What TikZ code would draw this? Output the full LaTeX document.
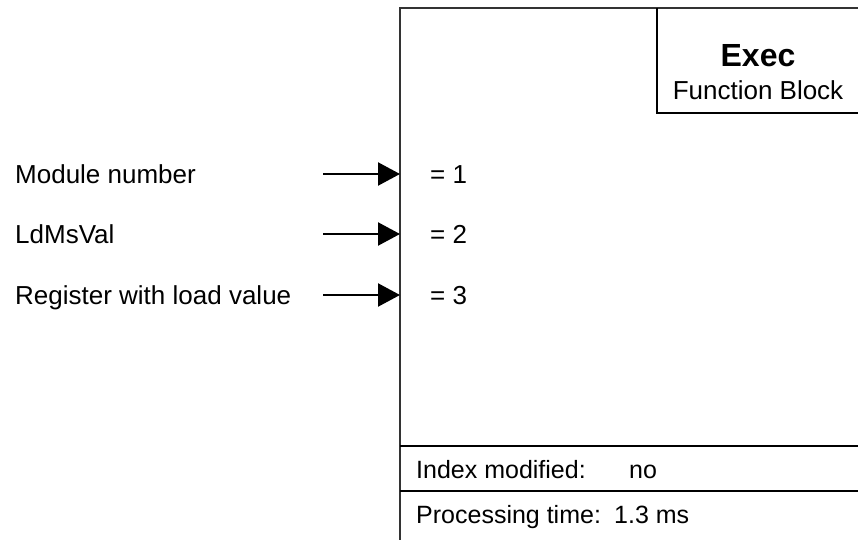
\documentclass[tikz,border=0pt]{standalone}
\usepackage{fontspec}
\setmainfont{Liberation Sans}
\usetikzlibrary{arrows.meta}
\begin{document}
\begin{tikzpicture}[x=1pt,y=-1pt,
  txt/.style={inner sep=0pt, anchor=base west, font=\fontsize{26}{31}\selectfont},
  rowtxt/.style={inner sep=0pt, anchor=base west, font=\fontsize{25}{30}\selectfont},
  thinline/.style={line width=1.3pt, draw=black!80},
  thickline/.style={line width=2.2pt},
  inarrow/.style={line width=2.2pt, -{Triangle[length=22pt,width=23pt]}, shorten >=0pt}]
\useasboundingbox (0,0) rectangle (858,540);
% outer block
\coordinate (tl) at (400,8);
\coordinate (tr) at (858,8);
\coordinate (bl) at (400,540);
\draw[thinline] (tr) -- (tl) -- (bl);
% title box
\coordinate (ttop) at (657,8);
\coordinate (tcorner) at (657,113);
\coordinate (tright) at (858,113);
\draw[thickline] (ttop) -- (tcorner) -- (tright);
\node[inner sep=0pt, anchor=base, font=\fontsize{32}{37}\selectfont\bfseries] (exec) at (758,67) {Exec};
\node[inner sep=0pt, anchor=base, font=\fontsize{26}{31}\selectfont] (fb) at (758,100) {Function Block};
% bottom rows
\coordinate (r1l) at (400,446);
\coordinate (r1r) at (858,446);
\coordinate (r2l) at (400,491);
\coordinate (r2r) at (858,491);
\draw[thickline] (r1l) -- (r1r);
\draw[thickline] (r2l) -- (r2r);
\node[rowtxt] (idx) at (416,478) {Index modified:};
\node[rowtxt] (idxv) at (629,478) {no};
\node[rowtxt] (proc) at (416,523) {Processing time:};
\node[rowtxt] (procv) at (614,523) {1.3 ms};
% inputs
\node[txt] (in1) at (15,183) {Module number};
\node[txt] (in2) at (15,243) {LdMsVal};
\node[txt] (in3) at (15,304) {Register with load value};
\coordinate (s1) at (323,174);
\coordinate (s2) at (323,234);
\coordinate (s3) at (323,295);
\coordinate (e1) at (400,174);
\coordinate (e2) at (400,234);
\coordinate (e3) at (400,295);
\draw[inarrow] (s1) -- (e1);
\draw[inarrow] (s2) -- (e2);
\draw[inarrow] (s3) -- (e3);
\node[txt] (v1) at (430,183) {= 1};
\node[txt] (v2) at (430,243) {= 2};
\node[txt] (v3) at (430,304) {= 3};
\end{tikzpicture}
\end{document}
